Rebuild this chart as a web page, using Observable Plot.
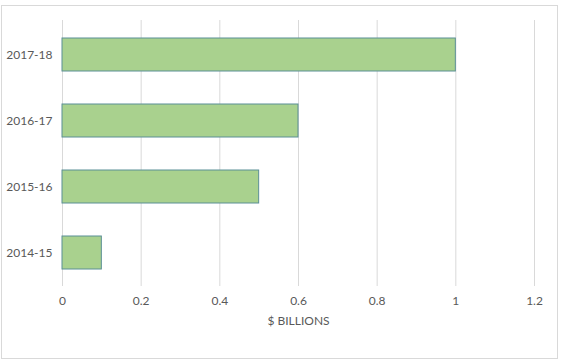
<!DOCTYPE html>
<html>
<head>
<meta charset="utf-8">
<script src="https://cdn.jsdelivr.net/npm/d3@7"></script>
<script src="https://cdn.jsdelivr.net/npm/@observablehq/plot@0.6"></script>
<style>
  html, body { margin: 0; padding: 0; background: #fff; }
  #wrap { position: relative; width: 562px; height: 362px; }
  #frame { position: absolute; left: 1px; top: 5px; width: 555px; height: 352px; border: 1px solid #d9d9d9; pointer-events: none; }
  #chart { position: absolute; left: 0; top: 0; }
</style>
</head>
<body>
<div id="wrap"><div id="chart"></div><div id="frame"></div></div>
<script>
const years = ["2017-18", "2016-17", "2015-16", "2014-15"];
const values = [1, 0.6, 0.5, 0.1];
const xTicks = [0, 0.2, 0.4, 0.6, 0.8, 1, 1.2];
const xLabel = "$ BILLIONS";

const data = years.map((y, i) => ({year: y, value: values[i]}));

const chart = Plot.plot({
  width: 562,
  height: 362,
  marginLeft: 62,
  marginRight: 28,
  marginTop: 20,
  marginBottom: 76,
  style: {fontFamily: "Lato, sans-serif", fontSize: "12px", color: "#595959", background: "transparent"},
  x: {domain: [0, 1.2], ticks: xTicks, tickSize: 0, tickPadding: 10, tickFormat: d => String(+d.toFixed(1)), label: xLabel, labelAnchor: "center", labelArrow: "none", labelOffset: 38},
  y: {domain: years, paddingInner: 0.5, paddingOuter: 0.25, tickSize: 0, tickPadding: 10, label: null},
  marks: [
    Plot.ruleX(xTicks, {stroke: "#d9d9d9", strokeWidth: 1, strokeOpacity: 1}),
    Plot.barX(data, {x: "value", y: "year", fill: "#a9d18e", stroke: "#5b8f95", strokeWidth: 1})
  ]
});
document.getElementById("chart").appendChild(chart);
</script>
</body>
</html>
